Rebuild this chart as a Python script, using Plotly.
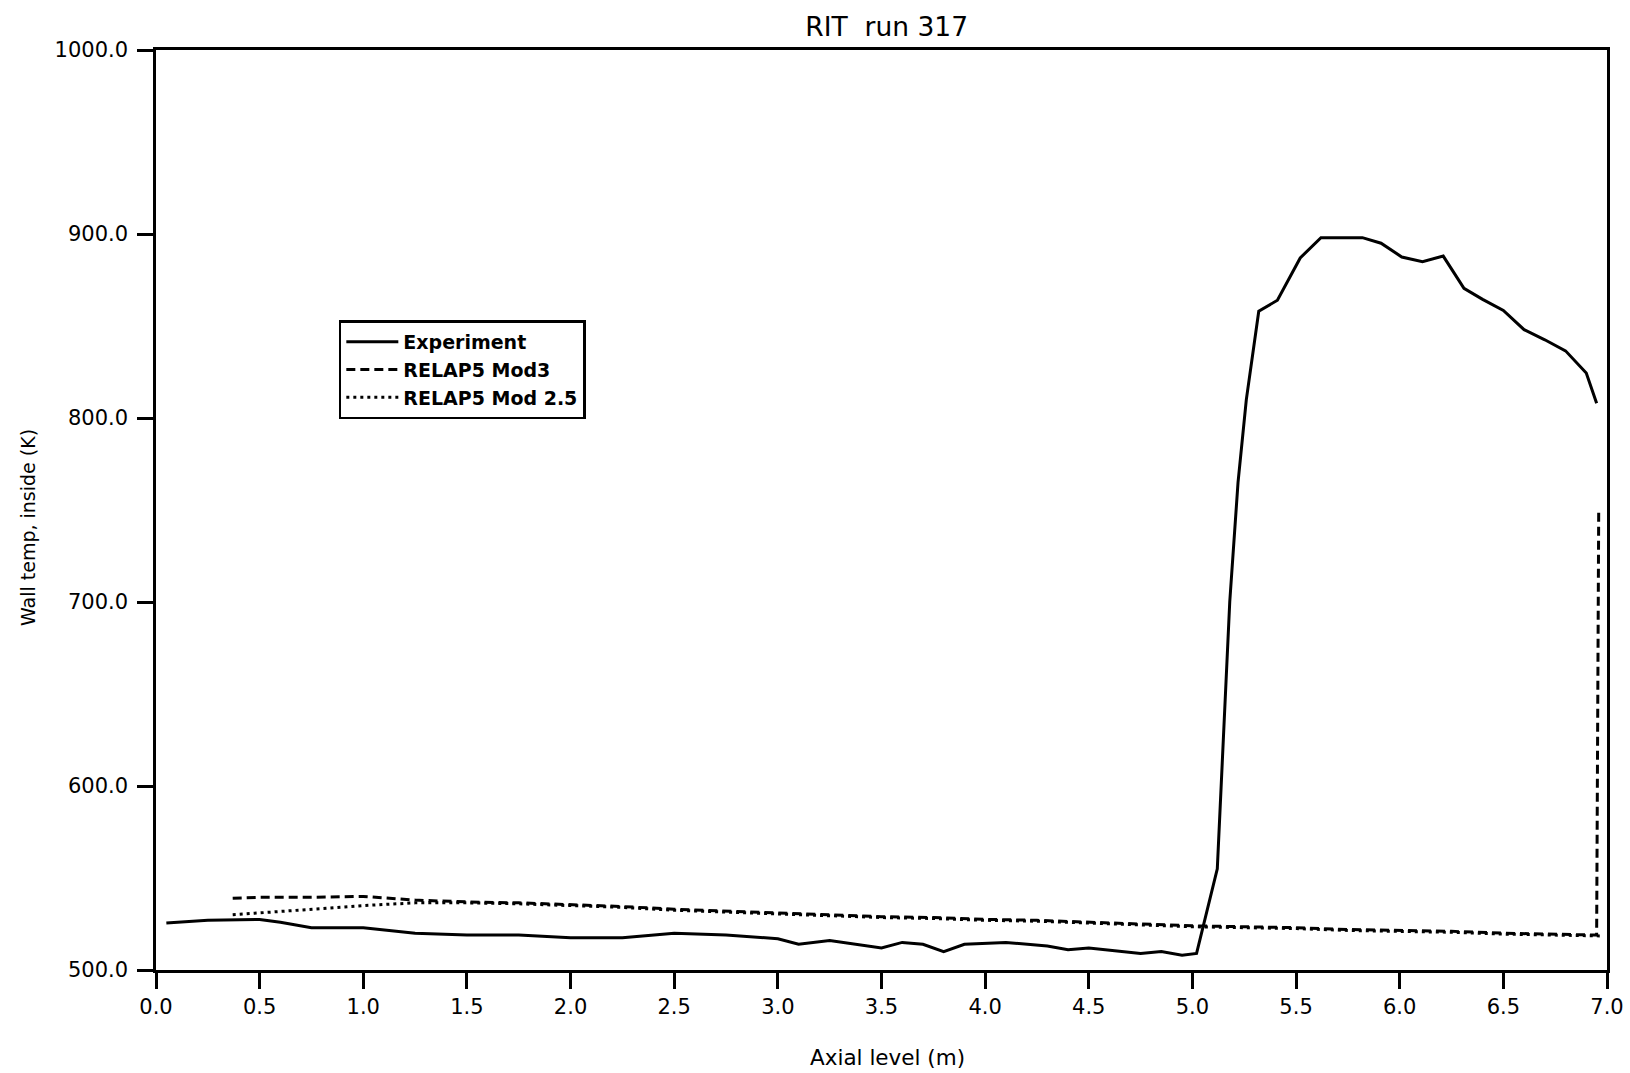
import plotly.graph_objects as go

# Experiment (solid)
exp_x = [0.05, 0.25, 0.5, 0.6, 0.75, 1.0, 1.25, 1.5, 1.75, 2.0, 2.25, 2.5, 2.75, 3.0, 3.1,
         3.25, 3.5, 3.6, 3.7, 3.8, 3.9, 4.1, 4.3, 4.4, 4.5, 4.75, 4.85, 4.95, 5.02, 5.12,
         5.18, 5.22, 5.26, 5.32, 5.41, 5.52, 5.62, 5.82, 5.91, 6.01, 6.11, 6.21, 6.31,
         6.40, 6.50, 6.60, 6.70, 6.80, 6.90, 6.95]
exp_y = [525.5, 527, 527.5, 526, 523, 523, 520, 519, 519, 517.5, 517.5, 520, 519, 517, 514,
         516, 512, 515, 514, 510, 514, 515, 513, 511, 512, 509, 510, 508, 509, 555,
         700, 765, 810, 858, 864, 887, 898, 898, 895, 887.5, 885, 888, 870.5,
         864.5, 858.5, 848, 842.5, 836.5, 824.5, 808]

# RELAP5 Mod3 (dashed)
m3_x = [0.37, 0.5, 0.75, 1.0, 1.25, 1.5, 1.75, 2.0, 2.25, 2.5, 2.75, 3.0, 3.25, 3.5, 3.75,
        4.0, 4.25, 4.5, 4.75, 5.0, 5.25, 5.5, 5.75, 6.0, 6.25, 6.5, 6.75, 6.92, 6.95, 6.96]
m3_y = [539, 539.5, 539.5, 540, 538, 537, 536.5, 535.5, 534.5, 533, 532, 531, 530, 529, 528.5,
        527.5, 527, 526, 525, 524, 523.5, 523, 522, 521.5, 521, 520, 519.5, 519, 519, 750]

# RELAP5 Mod 2.5 (dotted)
m25_x = [0.37, 0.5, 0.75, 1.0, 1.25, 1.5, 1.75, 2.0, 2.25, 2.5, 2.75, 3.0, 3.25, 3.5, 3.75,
         4.0, 4.25, 4.5, 4.75, 5.0, 5.25, 5.5, 5.75, 6.0, 6.25, 6.5, 6.75, 6.98]
m25_y = [530, 531, 533, 535, 536.5, 536.5, 536, 535, 534, 532.5, 531.5, 530.5, 529.5, 528.5, 528,
         527, 526.5, 525.5, 524.5, 523.5, 523, 522.5, 521.5, 521, 520.5, 519.5, 519, 518.5]

x_ticks = [0.0, 0.5, 1.0, 1.5, 2.0, 2.5, 3.0, 3.5, 4.0, 4.5, 5.0, 5.5, 6.0, 6.5, 7.0]
y_ticks = [500, 600, 700, 800, 900, 1000]

title_text = "RIT  run 317"
x_title = "Axial level (m)"
y_title = "Wall temp, inside (K)"

FONT = "DejaVu Sans"

fig = go.Figure()
fig.add_trace(go.Scatter(x=exp_x, y=exp_y, mode="lines", name="Experiment",
                         line=dict(color="black", width=3)))
fig.add_trace(go.Scatter(x=m3_x, y=m3_y, mode="lines", name="RELAP5 Mod3",
                         line=dict(color="black", width=3, dash="9px,5px")))
fig.add_trace(go.Scatter(x=m25_x, y=m25_y, mode="lines", name="RELAP5 Mod 2.5",
                         line=dict(color="black", width=3, dash="3px,4px")))

fig.update_layout(
    width=1630, height=1073,
    margin=dict(l=156, r=23, t=50, b=103, autoexpand=False),
    paper_bgcolor="white", plot_bgcolor="white",
    font=dict(family=FONT, size=21, color="black"),
    title=dict(text=title_text, x=0.544, xanchor="center", y=0.975, yanchor="middle",
               font=dict(family=FONT, size=26.5, color="black")),
    showlegend=True,
    legend=dict(x=0.126, y=0.706, xanchor="left", yanchor="top",
                bordercolor="black", borderwidth=2.5, bgcolor="white",
                font=dict(family=FONT, size=19, color="black", weight="bold"),
                itemwidth=52, tracegroupgap=0),
    xaxis=dict(range=[0, 7], tickvals=x_ticks, tickformat=".1f", automargin=False,
               showline=True, linecolor="black", linewidth=2.5, mirror=True,
               ticks="outside", ticklen=16, tickwidth=2.5, tickcolor="black",
               showgrid=False, zeroline=False),
    yaxis=dict(range=[500, 1000], tickvals=y_ticks, tickformat=".1f", automargin=False,
               showline=True, linecolor="black", linewidth=2.5, mirror=True,
               ticks="outside", ticklen=16, tickwidth=2.5, tickcolor="black",
               ticklabelstandoff=5,
               showgrid=False, zeroline=False),
    annotations=[
        dict(text=x_title, xref="paper", yref="paper", x=0.5038, y=-0.0946,
             xanchor="center", yanchor="middle", showarrow=False,
             font=dict(family=FONT, size=21.5, color="black")),
        dict(text=y_title, xref="paper", yref="paper", x=-0.0882, y=0.4804,
             xanchor="center", yanchor="middle", showarrow=False, textangle=-90,
             font=dict(family=FONT, size=19, color="black")),
    ],
)

fig.write_html("out.html")
